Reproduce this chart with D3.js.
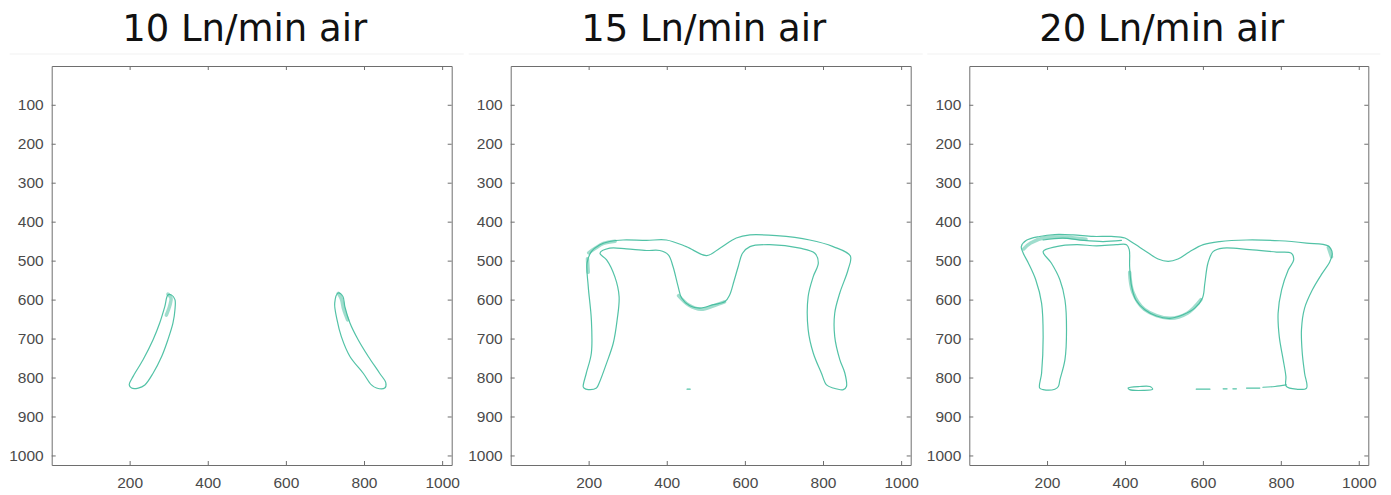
<!DOCTYPE html>
<html>
<head>
<meta charset="utf-8">
<script src="https://cdn.jsdelivr.net/npm/d3@7"></script>
<style>
  body { margin: 0; background: #fff; }
  svg { display: block; }
</style>
</head>
<body>
<svg id="chart" width="1391" height="495"></svg>
<script>
// titles and ticks
var titles = ["10 Ln/min air", "15 Ln/min air", "20 Ln/min air"];
var xTicks = [200, 400, 600, 800, 1000];
var yTicks = [100, 200, 300, 400, 500, 600, 700, 800, 900, 1000];

// outlines, [x, y] in image pixels (y down)
// 10 Ln/min
var air10Left = [[298,588],[290,618],[277,660],[260,703],[234,755],[209,797],[199,819],[205,827],[222,827],
  [239,819],[260,789],[282,746],[298,703],[311,660],[316,626],[316,600],[307,588]];
var air10Right = [[734,583],[725,609],[731,652],[742,695],[764,746],[798,789],[819,819],[832,827],[853,827],
  [856,814],[840,789],[811,746],[785,703],[764,660],[751,618],[746,592]];
var air10Fuzz = [
  [[298,586],[306,596],[303,615],[294,640]],
  [[734,584],[742,598],[748,625],[758,652]]
];

// 15 Ln/min
var air15Outline = [[188,827],[199,831],[220,827],[227,814],[246,763],[263,712],[273,652],[278,592],[267,541],
  [246,498],[229,481],[254,468],[297,470],[348,474],[382,474],[404,485],[416,515],[429,566],[438,596],[459,616],
  [485,622],[519,613],[549,605],[561,588],[572,553],[583,515],[594,481],[613,464],[664,459],[741,468],[779,481],
  [788,506],[775,541],[762,592],[762,677],[775,737],[796,789],[809,819],[826,827],[852,831],[860,823],[856,789],
  [843,754],[830,695],[830,635],[843,583],[864,524],[870,488],[826,464],[766,447],[681,436],[613,434],[578,442],
  [536,468],[502,487],[450,464],[399,447],[348,448],[288,447],[254,451],[229,459],[207,477],[196,506],[199,566],
  [207,652],[207,737],[194,789],[186,823]];
var air15Dash = [[[452,830],[460,830]]];
var air15Fuzz = [
  [[200,480],[216,469],[238,456],[268,450]],
  [[197,495],[199,530]],
  [[430,590],[456,614],[488,625],[520,616],[548,606]]
];

// 20 Ln/min
var air20Outline = [[181,827],[186,789],[190,695],[186,609],[171,549],[152,506],[139,481],[134,464],[147,448],
  [181,438],[220,433],[267,434],[318,438],[365,438],[400,442],[421,455],[455,477],[485,496],[511,502],[536,496],
  [566,477],[601,459],[643,451],[712,447],[797,449],[866,455],[921,462],[932,481],[926,502],[904,536],[881,575],
  [861,622],[853,677],[855,737],[861,789],[866,827],[840,830],[814,823],[813,797],[806,754],[796,695],[793,635],
  [802,575],[819,524],[833,498],[827,481],[789,478],[720,472],[652,468],[626,477],[613,506],[605,558],[599,596],
  [579,622],[549,639],[515,648],[481,642],[451,626],[428,601],[417,566],[412,515],[411,472],[404,459],[378,459],
  [327,462],[276,459],[224,464],[190,477],[211,506],[233,549],[246,601],[250,677],[246,754],[233,806],[229,823],
  [220,830],[190,831]];
var air20Inner = [[190,447],[241,442],[293,448],[344,451],[391,448]];
var air20Loop = [[408,827],[438,823],[464,823],[471,830],[447,833],[412,831]];
var air20Dash = [
  [[583,830],[618,830]],
  [[652,829],[662,829]],
  [[677,829],[686,829]],
  [[712,827],[746,827]],
  [[754,825],[785,823],[814,819]]
];
var air20Fuzz = [
  [[140,470],[158,455],[198,440],[250,440],[300,445]],
  [[412,530],[420,580],[450,625],[515,648],[560,635],[595,600]],
  [[922,466],[930,490]]
];

var panels = [
  {left: 51.7, width: 400, title: titles[0], closed: [air10Left, air10Right], open: [], fuzz: air10Fuzz},
  {left: 510.7, width: 400, title: titles[1], closed: [air15Outline], open: air15Dash, fuzz: air15Fuzz},
  {left: 969.3, width: 399, title: titles[2], closed: [air20Outline, air20Loop], open: [air20Inner].concat(air20Dash), fuzz: air20Fuzz}
];

var plotTop = 66, plotH = 399;
var teal = "#3fbb9c";
var svg = d3.select("#chart");

panels.forEach(function(p){
  // faint strip line under the title
  svg.append("line")
    .attr("x1", p.left - 42).attr("x2", p.left + p.width + 12)
    .attr("y1", 54).attr("y2", 54)
    .attr("stroke", "#f1f1f1").attr("stroke-width", 1);

  svg.append("text")
    .attr("x", p.left + p.width / 2 - 7)
    .attr("y", 41)
    .attr("text-anchor", "middle")
    .attr("font-family", "DejaVu Sans, Verdana, sans-serif")
    .attr("font-size", 37)
    .attr("fill", "#111")
    .text(p.title);

  var g = svg.append("g").attr("transform", "translate(" + p.left + "," + plotTop + ")");

  var x = d3.scaleLinear().domain([0.5, 1024.5]).range([0, p.width]);
  var y = d3.scaleLinear().domain([0.5, 1024.5]).range([0, plotH]);

  var line = d3.line().x(function(d){ return x(d[0]); }).y(function(d){ return y(d[1]); });

  // noisy dense parts
  p.fuzz.forEach(function(f){
    g.append("path").attr("d", line.curve(d3.curveCatmullRom)(f))
      .attr("fill", "none").attr("stroke", teal).attr("stroke-width", 3.5)
      .attr("stroke-opacity", 0.5).attr("stroke-linecap", "round");
  });
  p.closed.forEach(function(c){
    g.append("path").attr("d", line.curve(d3.curveCatmullRomClosed.alpha(0.5))(c))
      .attr("fill", "none").attr("stroke", teal).attr("stroke-width", 1.2)
      .attr("stroke-opacity", 0.9);
  });
  p.open.forEach(function(c){
    g.append("path").attr("d", line.curve(d3.curveCatmullRom.alpha(0.5))(c))
      .attr("fill", "none").attr("stroke", teal).attr("stroke-width", 1.2)
      .attr("stroke-opacity", 0.9).attr("stroke-linecap", "round");
  });

  // axes, ticks inside like matlab
  var fmt = d3.format("d");
  var bottomAx = g.append("g").attr("transform", "translate(0," + plotH + ")")
    .call(d3.axisBottom(x).tickValues(xTicks).tickFormat(fmt).tickSizeInner(-4).tickSizeOuter(0).tickPadding(12));
  var leftAx = g.append("g")
    .call(d3.axisLeft(y).tickValues(yTicks).tickFormat(fmt).tickSizeInner(-4).tickSizeOuter(0).tickPadding(8));
  var topAx = g.append("g")
    .call(d3.axisTop(x).tickValues(xTicks).tickSizeInner(-4).tickSizeOuter(0).tickFormat(""));
  var rightAx = g.append("g").attr("transform", "translate(" + p.width + ",0)")
    .call(d3.axisRight(y).tickValues(yTicks).tickSizeInner(-4).tickSizeOuter(0).tickFormat(""));

  [bottomAx, leftAx, topAx, rightAx].forEach(function(a){
    a.select(".domain").attr("stroke", "#6e6e6e");
    a.selectAll(".tick line").attr("stroke", "#6e6e6e");
    a.selectAll(".tick text")
      .attr("font-family", "Liberation Sans, Arial, sans-serif")
      .attr("font-size", 15.5)
      .attr("fill", "#4a4a4a");
  });
});
</script>
</body>
</html>
